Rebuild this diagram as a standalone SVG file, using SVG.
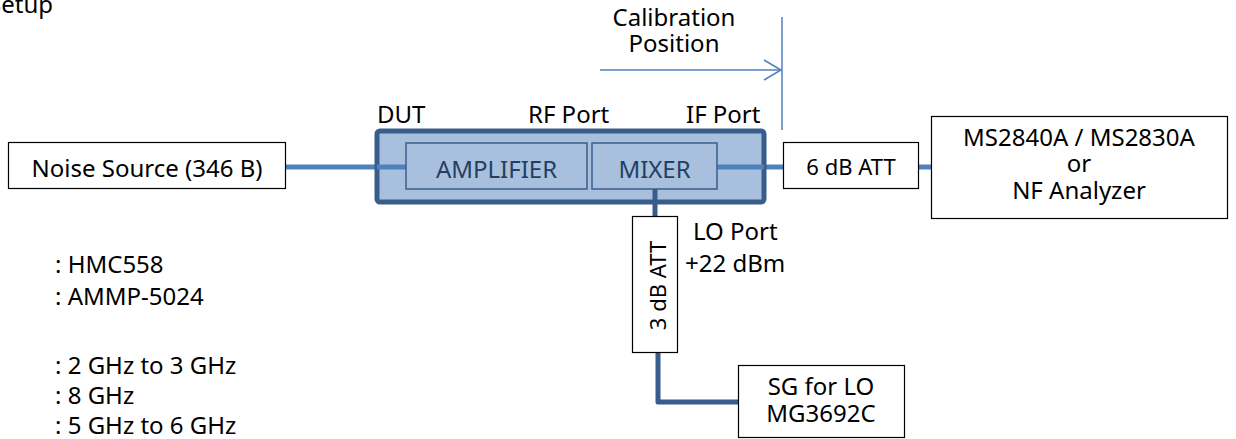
<svg xmlns="http://www.w3.org/2000/svg" width="1236" height="439" viewBox="0 0 1236 439">
<style>
text{font-family:"Noto Sans","Open Sans","DejaVu Sans",sans-serif;fill:#000;}
.lbl{font-size:24px;}
.att{font-size:22px;}
.lst{font-size:24px;}
.box{fill:#fff;stroke:#000;stroke-width:1.2;}
.inner{fill:#a8c0de;stroke:#385d8a;stroke-width:1.5;}
.itxt{font-size:24px;fill:#243f60;}
.sig{stroke:#4f81bd;stroke-width:5;fill:none;}
.lo{stroke:#385d8a;stroke-width:5;fill:none;stroke-linejoin:round;}
.cal{stroke:#4f81bd;stroke-width:1.5;fill:none;}
</style>
<defs>
<marker id="openArrow" markerWidth="20" markerHeight="24" refX="18" refY="11" orient="auto" markerUnits="userSpaceOnUse">
<path d="M1,1 L18,11 L1,21" fill="none" stroke="#4f81bd" stroke-width="1.5"/>
</marker>
</defs>
<text class="lbl" x="53" y="13" text-anchor="end">Setup</text>

<g id="connectors">
<line class="sig" x1="285" y1="167" x2="406" y2="167"/>
<line class="sig" x1="587" y1="167" x2="592" y2="167"/>
<line class="sig" x1="717" y1="167" x2="783" y2="167"/>
<line class="sig" x1="919" y1="167" x2="931" y2="167"/>
<line class="lo" x1="655" y1="189" x2="655" y2="216"/>
<polyline class="lo" points="658,352 658,402 738,402"/>
<line class="cal" x1="600" y1="70" x2="781" y2="70" marker-end="url(#openArrow)"/>
<line class="cal" x1="782" y1="17" x2="782" y2="130"/>
</g>

<g id="calibration">
<text class="lbl" x="674" y="26" text-anchor="middle">Calibration</text>
<text class="lbl" x="674" y="52" text-anchor="middle">Position</text>
</g>

<g id="noise-source">
<rect class="box" x="8.5" y="142.5" width="277" height="46"/>
<text class="lbl" x="147" y="177" text-anchor="middle">Noise Source (346 B)</text>
</g>

<g id="dut">
<rect x="377" y="131" width="387" height="71" rx="3" fill="#a8c0de" stroke="#385d8a" stroke-width="5"/>
<line class="sig" x1="377" y1="167" x2="406" y2="167"/>
<line class="sig" x1="717" y1="167" x2="764" y2="167"/>
<text class="lbl" x="377" y="123">DUT</text>
<text class="lbl" x="528" y="123">RF Port</text>
<text class="lbl" x="686" y="123">IF Port</text>
</g>
<g id="amplifier">
<rect class="inner" x="406" y="143" width="181" height="46"/>
<text class="itxt" x="496.5" y="178" text-anchor="middle">AMPLIFIER</text>
</g>
<g id="mixer">
<rect class="inner" x="592" y="143" width="125" height="46"/>
<line class="lo" x1="655" y1="189" x2="655" y2="201"/>
<text class="itxt" x="654.5" y="178" text-anchor="middle">MIXER</text>
</g>

<g id="att6">
<rect class="box" x="783.5" y="142.5" width="135" height="46"/>
<text class="att" x="851" y="175" text-anchor="middle">6 dB ATT</text>
</g>

<g id="analyzer">
<rect class="box" x="931.5" y="116.5" width="296" height="102"/>
<text class="lbl" x="1079" y="146" text-anchor="middle">MS2840A / MS2830A</text>
<text class="lbl" x="1079" y="172" text-anchor="middle">or</text>
<text class="lbl" x="1079" y="199" text-anchor="middle">NF Analyzer</text>
</g>

<g id="att3">
<rect class="box" x="632.5" y="216.5" width="45" height="136"/>
<text class="att" transform="translate(666,285.5) rotate(-90)" x="0" y="0" text-anchor="middle">3 dB ATT</text>
</g>

<g id="lo-port">
<text class="lbl" x="693" y="240">LO Port</text>
<text class="lbl" x="685" y="272">+22 dBm</text>
</g>

<g id="sg">
<rect class="box" x="738.5" y="365.5" width="166" height="72"/>
<text class="lbl" x="821" y="395" text-anchor="middle">SG for LO</text>
<text class="lbl" x="821" y="422" text-anchor="middle">MG3692C</text>
</g>

<g id="legend">
<text class="lst" x="55" y="273">: HMC558</text>
<text class="lst" x="55" y="305">: AMMP-5024</text>
<text class="lst" x="55" y="374">: 2 GHz to 3 GHz</text>
<text class="lst" x="55" y="404">: 8 GHz</text>
<text class="lst" x="55" y="434">: 5 GHz to 6 GHz</text>
</g>
</svg>
